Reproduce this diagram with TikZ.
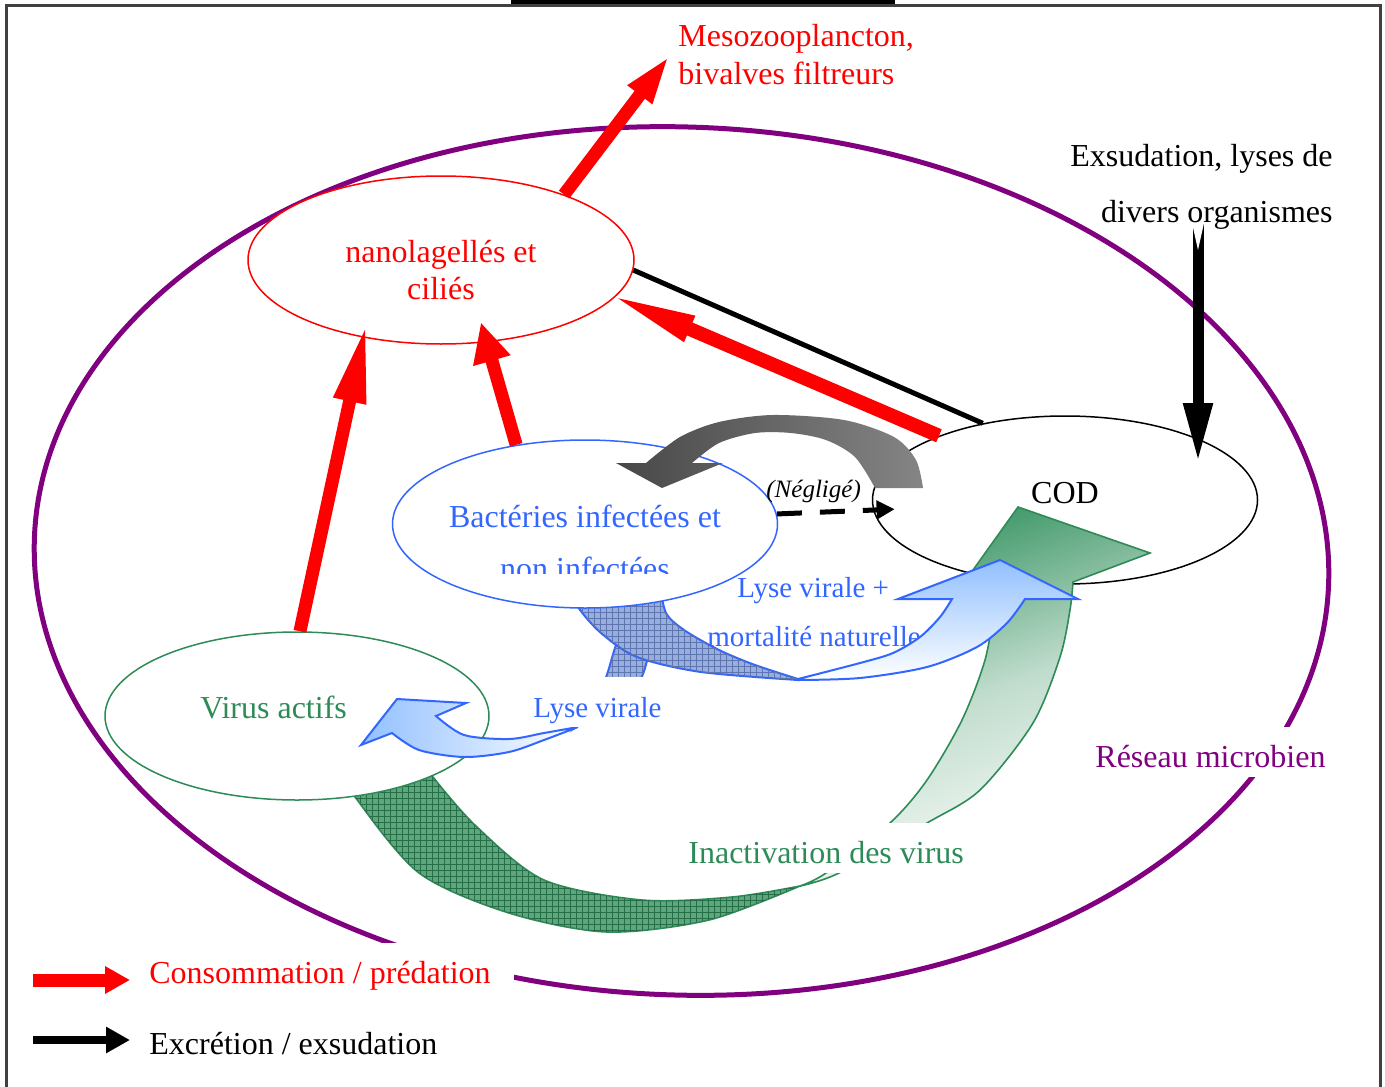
\documentclass[tikz,border=0pt]{standalone}
\usepackage{fontspec}
\setmainfont{Liberation Serif}
\usetikzlibrary{shapes.geometric,arrows.meta,patterns,calc}
\definecolor{purp}{RGB}{128,0,128}
\definecolor{bluet}{RGB}{51,102,255}
\definecolor{greent}{RGB}{46,139,87}
\definecolor{bluelight}{RGB}{145,192,255}
\definecolor{bluehatch}{RGB}{150,176,222}
\definecolor{greenhatch}{RGB}{95,165,125}
\definecolor{greendark}{RGB}{52,146,96}
\newcommand\bigtxt{\fontsize{16}{19}\selectfont}
\newcommand\midtxt{\fontsize{14.5}{17}\selectfont}
\newcommand\smalltxt{\fontsize{12.5}{15}\selectfont}
\begin{document}
\begin{tikzpicture}[x=0.5pt,y=-0.5pt,
  cell/.style={ellipse, minimum width=192pt, minimum height=84pt, inner sep=0pt, line width=0.75pt, fill=white},
  lbl/.style={font=\bigtxt, inner sep=0pt},
  boxed/.style={lbl, fill=white, text height=20pt, text depth=5pt, inner xsep=4pt},
  pred/.style={red, line width=6.5pt},
  excr/.style={black, line width=5.5pt},
  backblue/.style={draw=bluet, line width=1pt, fill=bluehatch, postaction={pattern=grid, pattern color=bluet!55!black!70}},
  frontblue/.style={draw=bluet, line width=1pt},
  backgreen/.style={draw=greent, line width=0.8pt, fill=greenhatch, postaction={pattern=grid, pattern color=greent!80!black}},
  frontgreen/.style={draw=greent, line width=0.8pt},
]
\useasboundingbox (0,0) rectangle (1385,1086);
\clip (0,0) rectangle (1385,1086);
\fill[white] (0,0) rectangle (1385,1086);

% frame
\fill[black] (511,0) rectangle (895,4);
\draw[black!75, line width=1.5pt] (6,1100) -- (6,6) -- (1380,6) -- (1380,1100);

% microbial network boundary
\draw[purp, line width=2.5pt, rotate around={-2:(681.5,561)}] (681.5,561) ellipse [x radius=647.5, y radius=434];

% inactivation flow, back side
\path[backgreen] plot[smooth] coordinates {(348,780) (355,797) (419,873) (509,913) (607,932) (709,920) (800,886)}
  -- plot[smooth] coordinates {(800,886) (732,897) (642,900) (544,880) (477,827) (433,777) (428,765)} -- cycle;

\node[cell, draw=greent] (virus) at (297,716) {};
\node[cell, draw=black, minimum width=192.5pt] (cod) at (1065,500) {};

% inactivation flow, front side and head
\path[frontgreen, top color=greendark, bottom color=white, middle color=greent!30, shading angle=20]
  (1018,507) -- (1150,553) -- (1073,582)
  -- plot[smooth] coordinates {(1073,582) (1070,610) (1060,657) (1033,723) (980,790) (927,823) (839,873) (800,886)}
  -- plot[smooth] coordinates {(800,886) (826,873) (890,823) (927,780) (962,720) (985,660) (995,605)}
  -- (968,577) -- cycle;

% lysis flows, back sides
\path[backblue] plot[smooth] coordinates {(630,612) (616,645) (605,680) (588,712) (576,727)}
  -- plot[smooth] coordinates {(576,727) (612,702) (640,680) (651,645) (662,612)} -- cycle;
\path[backblue] plot[smooth] coordinates {(570,585) (578,607) (601,633) (637,657) (701,672) (798,680)}
  -- plot[smooth] coordinates {(798,679) (755,665) (719,650) (684,630) (666,613) (660,585)} -- cycle;

\node[cell, draw=bluet, minimum width=192.5pt] (bact) at (585,524) {};

\node[lbl, font=\midtxt, text=bluet, anchor=base west] (lyseMort1) at (737,597) {Lyse virale +};
\node[lbl, font=\midtxt, text=bluet, anchor=base west] (lyseMort2) at (707,646) {mortalité naturelle};

% lysis flows, front sides and heads
\path[frontblue, top color=bluelight, bottom color=white]
  plot[smooth] coordinates {(798,679) (860,663) (893,653) (920,637) (940,617) (952,599)}
  -- (898,599) -- (1000,560) -- (1078,599) -- (1025,599)
  -- plot[smooth] coordinates {(1025,599) (1007,623) (977,647) (927,667) (860,678) (798,680)} -- cycle;
\path[frontblue, left color=bluelight, right color=white]
  plot[smooth] coordinates {(578,727) (544,733) (509,739) (464,735) (436,716)}
  -- (466,703) -- (397,699) -- (361,745) -- (392,733)
  -- plot[smooth] coordinates {(392,733) (419,750) (464,757) (509,752) (544,740) (578,727)} -- cycle;

\node[boxed, font=\midtxt, text=bluet, anchor=base west] (lyseV) at (525,717) {Lyse virale};

% neglected return flow
\path[left color=black!72, right color=black!48]
  (616,463) -- (662,488) -- (723,463) -- (692,463)
  -- plot[smooth] coordinates {(692,463) (719,443) (755,433) (791,433) (826,440) (855,457) (875,488)}
  -- (923,488)
  -- plot[smooth] coordinates {(923,488) (916,460) (894,437) (844,420) (773,415) (719,422) (680,437) (646,463)} -- cycle;

\node[cell, draw=red, minimum width=193pt] (nano) at (441,260) {};

% compartment labels
\node[lbl, text=red, anchor=base] (nanoT1) at (441,262) {nanolagellés et};
\node[lbl, text=red, anchor=base] (nanoT2) at (441,299) {ciliés};
\node[lbl, text=bluet, anchor=base] (bactT1) at (585,527) {Bactéries infectées et};
\begin{scope}
  \clip (400,540) rectangle (780,573);
  \node[lbl, text=bluet, anchor=base] (bactT2) at (585,579) {non infectées};
\end{scope}
\node[lbl, text=greent, anchor=base west] (virusT) at (200,718) {Virus actifs};
\node[lbl, anchor=base] (codT) at (1065,503) {COD};

% fluxes
\coordinate (mesoTip) at (670,55);
\coordinate (exsTop) at (1198,224);
\draw[black, line width=2.5pt] (nano.-3.6) -- (cod.137);
\draw[pred, -{Triangle[length=25pt,width=13.5pt]}] (nano.28) -- (mesoTip);
\draw[pred, -{Triangle[length=40pt,width=15pt]}, shorten >=-7.5pt] (virus.88) -- (nano.-135);
\draw[pred, -{Triangle[length=20pt,width=18pt]}, shorten >=-10.5pt] (bact.131) -- (nano.-61);
\draw[pred, line width=7pt, -{Triangle[length=48pt,width=12pt]}, shorten >=-7.5pt] (cod.153) -- (nano.-12.8);

\node[lbl, anchor=base east] (exs1) at (1333,166) {Exsudation, lyses de};
\node[lbl, anchor=base east] (exs2) at (1333,222) {divers organismes};
\draw[excr, -{Triangle[length=30pt,width=13.5pt]}, shorten >=18.5pt] (exsTop) -- (exsTop |- cod.center);
\fill[white] (1192,223) -- (1204,223) -- (1198,250) -- cycle;

\draw[black, line width=2.5pt, dash pattern=on 12.5pt off 9pt, -{Triangle[length=9pt,width=9pt]}, shorten >=-10.75pt] (bact.3.3) -- (cod.183.6);
\node[lbl, font=\smalltxt\itshape, anchor=base west] (negl) at (766,497) {(Négligé)};

\node[lbl, text=red, anchor=base west] (meso1) at (678,47) {Mesozooplancton,};
\node[lbl, text=red, anchor=base west] (meso2) at (678,84) {bivalves filtreurs};

\node[boxed, text=greent, anchor=base west] (inact) at (680,863) {Inactivation des virus};
\node[boxed, text=purp, anchor=base west] (reseau) at (1087,767) {Réseau microbien};

% legend
\node[lbl, text=red, anchor=base west, fill=white, text height=20pt, text depth=5pt] (legCons) at (149,983) {\makebox[182.5pt][l]{Consommation / prédation}};
\node[lbl, anchor=base west] (legExc) at (149,1054) {Excrétion / exsudation};
\coordinate (lgA0) at (33,980);
\coordinate (lgA1) at (130,980);
\coordinate (lgB0) at (33,1040);
\coordinate (lgB1) at (130,1040);
\draw[pred, -{Triangle[length=12.5pt,width=13pt]}] (lgA0) -- (lgA1);
\draw[black, line width=4pt, -{Triangle[length=12pt,width=12.5pt]}] (lgB0) -- (lgB1);
\end{tikzpicture}
\end{document}
